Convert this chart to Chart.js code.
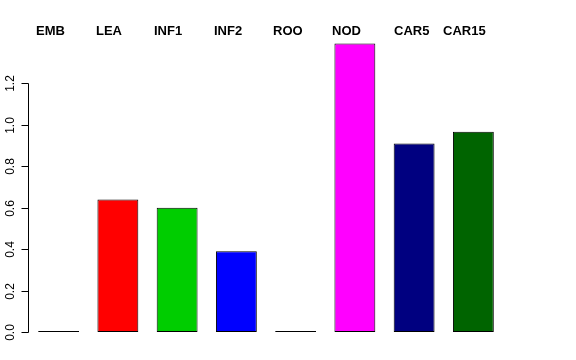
<!DOCTYPE html>
<html>
<head>
<meta charset="utf-8">
<script src="https://cdn.jsdelivr.net/npm/chart.js@4/dist/chart.umd.min.js"></script>
<style>
html,body{margin:0;padding:0;background:#fff;}
#wrap{width:576px;height:360px;position:relative;}
</style>
</head>
<body>
<div id="wrap"><canvas id="c" width="576" height="360"></canvas></div>
<script>
const categories = ["EMB","LEA","INF1","INF2","ROO","NOD","CAR5","CAR15"];
const values = [0, 0.64, 0.60, 0.39, 0, 1.393, 0.91, 0.967];
const barColors = ["#000000","#FF0000","#00CD00","#0000FF","#BEBEBE","#FF00FF","#000080","#006400"];
const yTicks = [0.0, 0.2, 0.4, 0.6, 0.8, 1.0, 1.2];

// layout: left x of each top label
const labelLeft = [36, 96, 154, 214, 273, 332, 394, 443];

const rAxis = {
  id: 'rAxis',
  afterDraw(chart) {
    const ctx = chart.ctx;
    const y = chart.scales.y;
    const axisX = 28.5;
    ctx.save();
    ctx.strokeStyle = '#000';
    ctx.lineWidth = 1;
    ctx.beginPath();
    ctx.moveTo(axisX, Math.round(y.getPixelForValue(yTicks[0])) + 0.5);
    ctx.lineTo(axisX, Math.round(y.getPixelForValue(yTicks[yTicks.length - 1])) + 0.5);
    ctx.stroke();
    ctx.font = '12px "Liberation Sans", Arial, sans-serif';
    ctx.fillStyle = '#000';
    ctx.textAlign = 'center';
    ctx.textBaseline = 'middle';
    yTicks.forEach(t => {
      const py = Math.round(y.getPixelForValue(t)) + 0.5;
      ctx.beginPath();
      ctx.moveTo(axisX, py);
      ctx.lineTo(axisX - 7, py);
      ctx.stroke();
      ctx.save();
      ctx.translate(11, py);
      ctx.rotate(-Math.PI / 2);
      ctx.fillText(t.toFixed(1), 0, 0);
      ctx.restore();
    });
    ctx.font = 'bold 13px "Liberation Sans", Arial, sans-serif';
    ctx.textAlign = 'left';
    ctx.textBaseline = 'alphabetic';
    categories.forEach((c, i) => {
      ctx.fillText(c, labelLeft[i], 35);
    });
    ctx.restore();
  }
};

new Chart(document.getElementById('c'), {
  type: 'bar',
  data: {
    labels: categories,
    datasets: [{
      data: values,
      backgroundColor: barColors,
      borderColor: '#000',
      borderWidth: 1,
      borderSkipped: false,
      minBarLength: 1,
      barPercentage: 0.69,
      categoryPercentage: 1.0
    }]
  },
  options: {
    responsive: false,
    animation: false,
    devicePixelRatio: 1,
    layout: { padding: { left: 29, right: 73, top: 42, bottom: 28 } },
    plugins: { legend: { display: false }, tooltip: { enabled: false } },
    scales: {
      x: { display: false },
      y: { display: false, min: 0, max: 1.4 }
    }
  },
  plugins: [rAxis]
});
</script>
</body>
</html>
